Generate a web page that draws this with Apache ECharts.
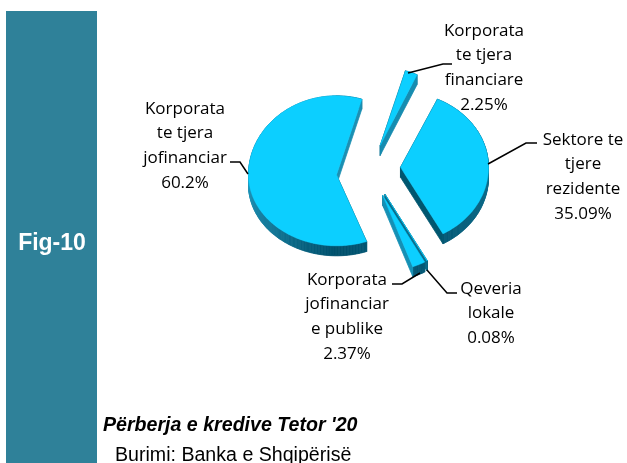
<!DOCTYPE html>
<html>
<head>
<meta charset="utf-8">
<style>html,body{margin:0;padding:0;background:#fff}#c{width:627px;height:463px}</style>
<script src="https://cdn.jsdelivr.net/npm/echarts@6/dist/echarts.min.js"></script>
</head>
<body>
<div id="c"></div>
<script>
// Data, clockwise from the top-left slice
const categories = ["Korporata\nte tjera\nfinanciare", "Sektore te\ntjere\nrezidente", "Qeveria\nlokale", "Korporata\njofinanciar\ne publike", "Korporata\nte tjera\njofinanciar"];
const values = [2.25, 35.09, 0.08, 2.37, 60.2];
const valueLabels = ["2.25%", "35.09%", "0.08%", "2.37%", "60.2%"];
const figureLabel = "Fig-10";
const chartTitle = "Përberja e kredive Tetor '20";
const sourceNote = "Burimi: Banka e Shqipërisë";

// Drawing layout
const startAngle = 16.7, cx = 369.5, cy = 171, rx = 88, depth = 10, shear = 0.09;
const explode = [30, 31, 32, 32, 33];
const radiusUp = [78, 75, 76, 76, 79];
const radiusDown = [73, 76, 76, 76, 71];
const endWall = ["#168cb0", "#00566f", "#0a6d8c", "#1590b5", "#1c8fb2"];
const labelAnchors = [[484, 31], [583, 140], [491, 289], [347, 280], [185, 109]];
const leaders = [
  [[408, 73], [443, 64], [452, 64]],
  [[488, 164], [526, 143], [537, 143]],
  [[427, 270], [447, 293], [457, 293]],
  [[420, 273], [402, 284], [392, 284]],
  [[248, 174], [240, 162], [230, 162]]
];
const lineStep = 24.6;

const total = values.reduce((a, b) => a + b, 0);
const toRad = d => d * Math.PI / 180;

function mix(a, b, t) {
  const p = h => [1, 3, 5].map(i => parseInt(h.substr(i, 2), 16));
  const A = p(a), B = p(b);
  return "rgb(" + A.map((v, i) => Math.round(v + (B[i] - v) * t)).join(",") + ")";
}
function arcColor(deg) {
  const d = ((deg % 360) + 360) % 360;
  if (d >= 180) return mix("#00506c", "#2298bc", Math.min(1, (d - 180) / 90));
  return mix("#00506c", "#0f6f8e", Math.min(1, (180 - d) / 90));
}

function renderSlice(params) {
  const i = params.dataIndex;
  let a0 = startAngle;
  for (let k = 0; k < i; k++) a0 += values[k] / total * 360;
  const a1 = a0 + values[i] / total * 360;
  const mid = toRad((a0 + a1) / 2);
  const ex = explode[i] * Math.sin(mid);
  const ox = cx + ex;
  const oy = cy - explode[i] * Math.cos(mid) * 0.875 - shear * ex;
  const pt = deg => {
    const t = toRad(deg), c = Math.cos(t);
    return [ox + rx * Math.sin(t), oy - (c > 0 ? radiusUp[i] : radiusDown[i]) * c];
  };
  const apex = [ox, oy];
  const down = p => [p[0], p[1] + depth];
  const steps = Math.max(1, Math.ceil((a1 - a0) / 1));
  const arc = [];
  for (let s = 0; s <= steps; s++) arc.push(a0 + (a1 - a0) * s / steps);
  const pts = arc.map(pt);
  const children = [];
  const quad = (p, q, color) => children.push({
    type: "polygon",
    shape: { points: [p, q, down(q), down(p)] },
    style: { fill: color, stroke: color, lineWidth: 0.8 }
  });
  quad(apex, pts[0], "#00566f");
  for (let s = 0; s < steps; s++) quad(pts[s], pts[s + 1], arcColor((arc[s] + arc[s + 1]) / 2));
  quad(apex, pts[steps], endWall[i]);
  children.push({
    type: "polygon",
    shape: { points: [apex].concat(pts) },
    style: { fill: "#0ccfff", stroke: "#0ccfff", lineWidth: 0.5 }
  });
  return { type: "group", children };
}

const graphics = [
  { type: "rect", shape: { x: 6, y: 11, width: 91, height: 452 }, style: { fill: "#2f8199" }, z: 1 },
  { type: "text", x: 52, y: 244, style: { text: figureLabel, fill: "#fff", font: "bold 23px 'Liberation Sans'", textAlign: "center", textVerticalAlign: "middle" }, z: 2 },
  { type: "text", x: 103, y: 426, style: { text: chartTitle, fill: "#000", font: "italic bold 19.6px 'Liberation Sans'", textAlign: "left", textVerticalAlign: "middle" }, z: 2 },
  { type: "text", x: 115, y: 456, style: { text: sourceNote, fill: "#000", font: "19.6px 'Liberation Sans'", textAlign: "left", textVerticalAlign: "middle" }, z: 2 }
];
categories.forEach((name, i) => {
  const lines = name.split("\n").concat(valueLabels[i]);
  lines.forEach((t, k) => graphics.push({
    type: "text", x: labelAnchors[i][0], y: labelAnchors[i][1] + k * lineStep,
    style: { text: t, fill: "#000", font: "17px 'Open Sans'", textAlign: "center", textVerticalAlign: "middle" }, z: 5
  }));
  graphics.push({
    type: "polyline", shape: { points: leaders[i] },
    style: { stroke: "#000", lineWidth: 1.5, fill: null }, z: 5
  });
});

const chart = echarts.init(document.getElementById("c"), null, { renderer: "canvas" });
chart.setOption({
  animation: false,
  backgroundColor: "#fff",
  graphic: { elements: graphics },
  series: [{
    type: "custom",
    coordinateSystem: "none",
    renderItem: renderSlice,
    data: values,
    silent: true,
    clip: false
  }]
});
</script>
</body>
</html>
